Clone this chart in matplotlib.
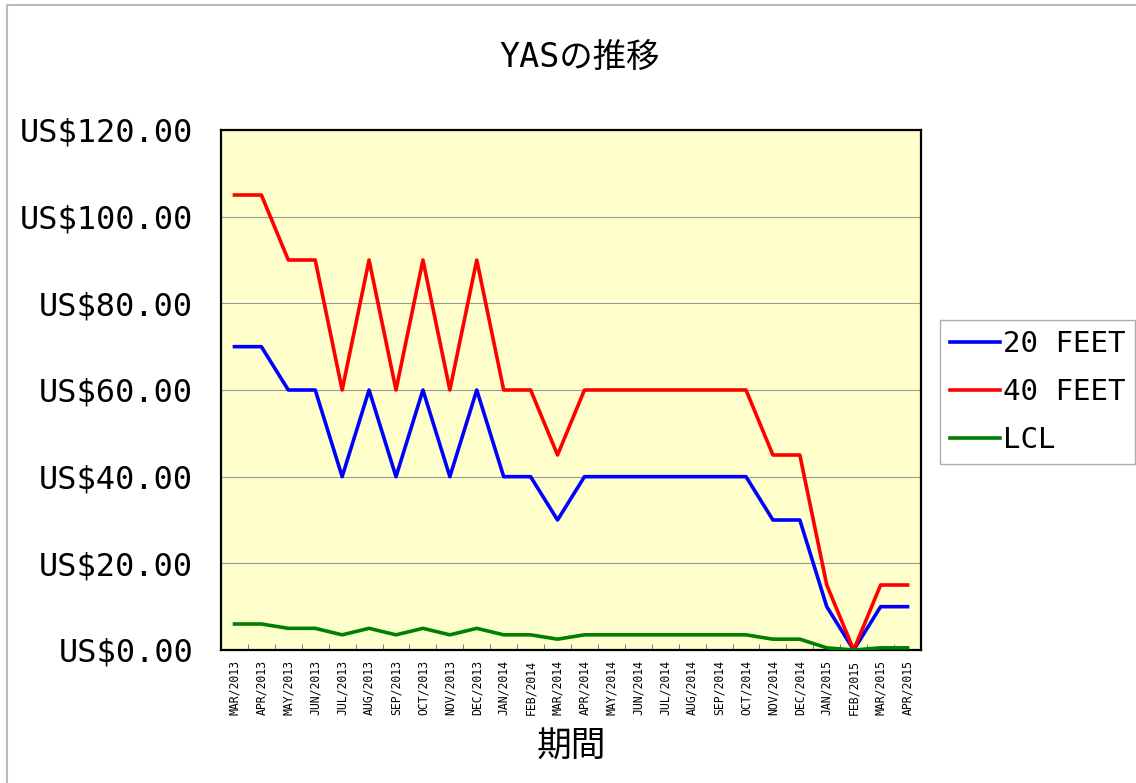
import matplotlib
matplotlib.use("Agg")
import matplotlib.pyplot as plt
from matplotlib.patches import Rectangle
from matplotlib.ticker import FixedLocator, FuncFormatter

plt.rcParams['font.family'] = ['DejaVu Sans Mono', 'Noto Sans CJK JP']

# -------------------------
# Data
# -------------------------
months = [
    "MAR/2013", "APR/2013", "MAY/2013", "JUN/2013", "JUL/2013", "AUG/2013",
    "SEP/2013", "OCT/2013", "NOV/2013", "DEC/2013", "JAN/2014", "FEB/2014",
    "MAR/2014", "APR/2014", "MAY/2014", "JUN/2014", "JUL/2014", "AUG/2014",
    "SEP/2014", "OCT/2014", "NOV/2014", "DEC/2014", "JAN/2015", "FEB/2015",
    "MAR/2015", "APR/2015",
]
feet20 = [70, 70, 60, 60, 40, 60, 40, 60, 40, 60, 40, 40, 30,
          40, 40, 40, 40, 40, 40, 40, 30, 30, 10, 0, 10, 10]
feet40 = [105, 105, 90, 90, 60, 90, 60, 90, 60, 90, 60, 60, 45,
          60, 60, 60, 60, 60, 60, 60, 45, 45, 15, 0, 15, 15]
lcl = [6, 6, 5, 5, 3.5, 5, 3.5, 5, 3.5, 5, 3.5, 3.5, 2.5,
       3.5, 3.5, 3.5, 3.5, 3.5, 3.5, 3.5, 2.5, 2.5, 0.5, 0, 0.5, 0.5]

x = list(range(len(months)))

# -------------------------
# Figure
# -------------------------
fig = plt.figure(figsize=(11.36, 7.83), dpi=100)
ax = fig.add_axes([221 / 1136, 1 - 650 / 783, 700 / 1136, 520 / 783])
ax.set_facecolor("#FFFFCC")

ax.plot(x, feet20, color="#0000FF", lw=2.6, label="20 FEET", zorder=3)
ax.plot(x, feet40, color="#FF0000", lw=2.6, label="40 FEET", zorder=3)
ax.plot(x, lcl, color="#008000", lw=2.6, label="LCL", zorder=3)

ax.set_xlim(-0.5, len(months) - 0.5)
ax.set_ylim(0, 120)
ax.set_yticks(range(0, 121, 20))
ax.yaxis.set_major_formatter(FuncFormatter(lambda v, p: f"US${v:.2f}"))
ax.tick_params(axis="y", labelsize=23, length=0, pad=20)
ax.grid(axis="y", color="#999999", lw=0.8)
ax.set_axisbelow(True)

ax.set_xticks(x)
ax.set_xticklabels(months, rotation=90, fontsize=8.3)
ax.tick_params(axis="x", length=0, pad=7)
ax.xaxis.set_minor_locator(FixedLocator([i + 0.5 for i in x[:-1]]))
ax.tick_params(axis="x", which="minor", direction="in", length=4, color="#666666")

for s in ax.spines.values():
    s.set_color("black")
    s.set_linewidth(1.6)

ax.set_xlabel("期間", fontsize=25, labelpad=11)
fig.text(580 / 1136, 1 - 57 / 783, "YASの推移", fontsize=24, ha="center", va="center")

leg = ax.legend(loc="upper left", bbox_to_anchor=(940 / 1136, 1 - 320 / 783),
                bbox_transform=fig.transFigure, fontsize=21, frameon=True,
                fancybox=False, edgecolor="#999999", handlelength=1.7,
                handletextpad=0.1, borderpad=0.35, labelspacing=0.68,
                borderaxespad=0)
leg.get_frame().set_linewidth(1.0)

fig.add_artist(Rectangle((7 / 1136, -0.1), 1.2, 1.1 - 5 / 783, transform=fig.transFigure,
                         fill=False, ec="#bbbbbb", lw=1.5))

fig.savefig("out.png", dpi=100)
